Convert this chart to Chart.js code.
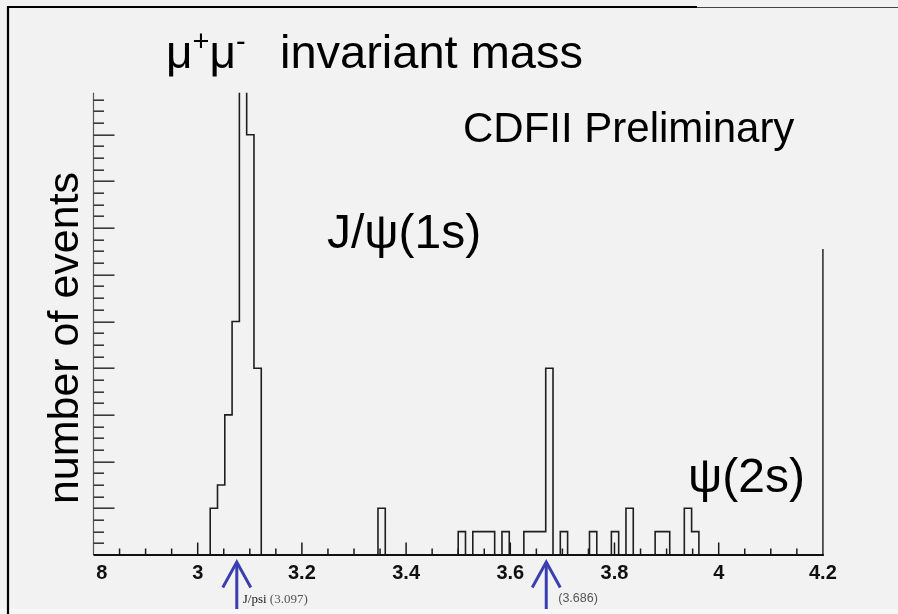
<!DOCTYPE html>
<html><head><meta charset="utf-8">
<script src="https://cdn.jsdelivr.net/npm/chart.js@4.4.1/dist/chart.umd.min.js"></script>
<style>html,body{margin:0;padding:0;background:#f2f2f2;overflow:hidden}canvas{display:block}</style>
</head><body>
<canvas id="c" width="898" height="614"></canvas>
<script>
// ---- data ----
const massMin = 2.8, massMax = 4.2, binWidth = 0.014;       // 100 bins
const binIndex  = [16,17,18,19,20,21,22,39,50,52,53,54,56,59,60,61,62,64,68,71,73,77,78,81,82];
const binEvents = [ 2, 3, 6,10,24,18, 8, 2, 1, 1, 1, 1, 1, 1, 1, 1, 8, 1, 1, 1, 2, 1, 1, 2, 1];
const xTickValues = [2.8, 3.0, 3.2, 3.4, 3.6, 3.8, 4.0, 4.2];
const xTickLabels = ['2.8', '3', '3.2', '3.4', '3.6', '3.8', '4', '4.2'];
const yMax = 19.8;
const arrowMass = [3.075, 3.669];
const arrowLabels = [['J/psi', ' (3.097)'], ['', '(3.686)']];

// ---- build histogram outline points (value of bin k drawn from its low edge to next edge) ----
const nBins = Math.round((massMax - massMin) / binWidth);
const counts = new Array(nBins).fill(0);
binIndex.forEach((k, i) => { counts[k] = binEvents[i]; });
const points = [{ x: massMin, y: 0 }];
counts.forEach((c, k) => { points.push({ x: massMin + (k + 1) * binWidth, y: c }); });

const SANS = '"Liberation Sans", Arial, Helvetica, sans-serif';
const SERIF = '"Liberation Serif", "DejaVu Serif", serif';

const decor = {
  id: 'decor',
  beforeDraw(chart) {
    const ctx = chart.ctx;
    ctx.save();
    ctx.fillStyle = '#f2f2f2';
    ctx.fillRect(0, 0, chart.width, chart.height);
    ctx.fillStyle = '#f7f7f7';
    ctx.fillRect(0, 609, chart.width, chart.height - 609);
    ctx.restore();
  },
  afterDraw(chart) {
    const ctx = chart.ctx;
    const xs = chart.scales.x, ys = chart.scales.y;
    const ca = chart.chartArea;
    const y0 = ys.getPixelForValue(0);
    const xl = xs.getPixelForValue(massMin), xr = xs.getPixelForValue(massMax);
    ctx.save();
    // slide borders
    ctx.strokeStyle = '#000';
    ctx.lineWidth = 2.2;
    ctx.beginPath(); ctx.moveTo(8, 614); ctx.lineTo(8, 7); ctx.lineTo(697, 7); ctx.stroke();
    ctx.lineWidth = 1;
    ctx.strokeStyle = '#444';
    ctx.beginPath(); ctx.moveTo(697, 7.5); ctx.lineTo(898, 7.5); ctx.stroke();

    // y axis line
    ctx.strokeStyle = '#555';
    ctx.lineWidth = 1.2;
    ctx.beginPath(); ctx.moveTo(xl, ca.top); ctx.lineTo(xl, y0); ctx.stroke();
    // right frame
    ctx.strokeStyle = '#333';
    ctx.lineWidth = 1.6;
    ctx.beginPath(); ctx.moveTo(xr, 249); ctx.lineTo(xr, y0); ctx.stroke();
    // y ticks (inside)
    ctx.strokeStyle = '#3a3a3a';
    ctx.lineWidth = 1.6;
    for (let i = 1; i * 0.5 < yMax; i++) {
      const py = Math.round(ys.getPixelForValue(i * 0.5)) + 0.2;
      const len = (i % 4 === 0) ? 21 : 10.5;
      ctx.beginPath(); ctx.moveTo(xl, py); ctx.lineTo(xl + len, py); ctx.stroke();
    }
    // x ticks (inside)
    ctx.strokeStyle = '#1a1a1a';
    ctx.lineWidth = 1.5;
    for (let i = 1; i < 28; i++) {
      const px = xs.getPixelForValue(massMin + i * 0.05);
      const len = (i % 4 === 0) ? 12.5 : 6.5;
      ctx.beginPath(); ctx.moveTo(px, y0); ctx.lineTo(px, y0 - len); ctx.stroke();
    }
    // baseline
    ctx.strokeStyle = '#111';
    ctx.lineWidth = 2.2;
    ctx.beginPath(); ctx.moveTo(xl, y0); ctx.lineTo(xr + 1, y0); ctx.stroke();

    // x tick labels (clipped at the y axis, as in the slide)
    ctx.save();
    ctx.beginPath(); ctx.rect(xl + 2.8, y0 + 2, chart.width, 40); ctx.clip();
    ctx.fillStyle = '#111';
    ctx.font = 'bold 20px ' + SANS;
    ctx.textAlign = 'center';
    ctx.textBaseline = 'alphabetic';
    xTickValues.forEach((v, i) => {
      ctx.fillText(xTickLabels[i], xs.getPixelForValue(v), 578.5);
    });
    ctx.restore();

    // arrows
    ctx.strokeStyle = '#3a3fb0';
    ctx.lineWidth = 3;
    ctx.lineCap = 'butt';
    arrowMass.forEach((m) => {
      const px = xs.getPixelForValue(m);
      ctx.beginPath(); ctx.moveTo(px, 609); ctx.lineTo(px, 562); ctx.stroke();
      ctx.beginPath(); ctx.moveTo(px - 14, 587.5); ctx.lineTo(px, 562); ctx.lineTo(px + 14, 587.5); ctx.stroke();
    });
    // arrow labels
    ctx.textAlign = 'left';
    ctx.textBaseline = 'alphabetic';
    {
      const px = xs.getPixelForValue(arrowMass[0]) + 6;
      ctx.font = '13px ' + SERIF;
      ctx.fillStyle = '#222';
      ctx.fillText(arrowLabels[0][0], px, 603);
      const w = ctx.measureText(arrowLabels[0][0]).width;
      ctx.fillStyle = '#555';
      ctx.fillText(arrowLabels[0][1], px + w, 603);
    }
    {
      const px = xs.getPixelForValue(arrowMass[1]) + 12;
      ctx.font = '12.5px ' + SANS;
      ctx.fillStyle = '#555';
      ctx.fillText(arrowLabels[1][1], px, 602);
    }

    // texts
    ctx.fillStyle = '#000';
    // title with superscripts
    let tx = 166;
    const tb = 68;
    ctx.font = '46px ' + SANS;
    ctx.fillText('\u03bc', tx, tb); tx += ctx.measureText('\u03bc').width;
    ctx.font = '29px ' + SANS;
    ctx.fillText('+', tx, tb - 17); tx += ctx.measureText('+').width;
    ctx.font = '46px ' + SANS;
    ctx.fillText('\u03bc', tx, tb); tx += ctx.measureText('\u03bc').width;
    ctx.font = '29px ' + SANS;
    ctx.fillText('-', tx, tb - 17);
    ctx.font = '47px ' + SANS;
    ctx.fillText('invariant mass', 280, tb);

    ctx.font = '42px ' + SANS;
    ctx.fillText('CDFII Preliminary', 463, 142);
    ctx.font = '48px ' + SANS;
    ctx.fillText('J/\u03c8(1s)', 327, 248);
    ctx.fillText('\u03c8(2s)', 688, 492);

    // y axis title
    ctx.save();
    ctx.translate(78, 338);
    ctx.rotate(-Math.PI / 2);
    ctx.textAlign = 'center';
    ctx.font = '43px ' + SANS;
    ctx.fillText('number of events', 0, 0);
    ctx.restore();

    ctx.restore();
  }
};

new Chart(document.getElementById('c'), {
  type: 'line',
  data: {
    datasets: [{
      data: points,
      stepped: 'after',
      borderColor: '#1e1e1e',
      borderWidth: 1.6,
      pointRadius: 0,
      fill: false
    }]
  },
  options: {
    responsive: false,
    animation: false,
    layout: { padding: { left: 93.5, right: 75.1, top: 92.7, bottom: 59 } },
    scales: {
      x: { type: 'linear', min: massMin, max: massMax, display: false },
      y: { type: 'linear', min: 0, max: yMax, display: false }
    },
    plugins: { legend: { display: false }, tooltip: { enabled: false } }
  },
  plugins: [decor]
});
</script>
</body></html>
